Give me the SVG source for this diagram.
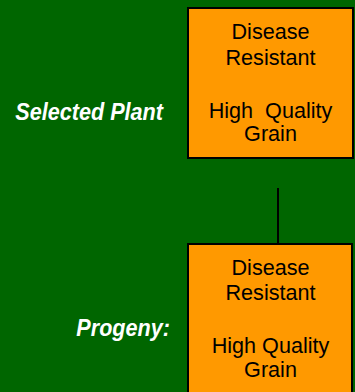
<svg xmlns="http://www.w3.org/2000/svg" width="355" height="392" viewBox="0 0 355 392">
<style>
.box{fill:#FF9900;stroke:#000;stroke-width:2}
.t{font-family:"Liberation Sans",Arial,sans-serif;font-size:22.5px;fill:#000;text-anchor:middle}
.lbl{font-family:"Liberation Sans",Arial,sans-serif;font-size:23px;font-weight:bold;font-style:italic;fill:#fff;text-anchor:end}
.conn{stroke:#000;stroke-width:2;fill:none}
</style>
<rect width="355" height="392" fill="#006600"/>
<g id="connectors">
<line class="conn" x1="278" y1="188" x2="278" y2="244"/>
</g>
<g id="selected-label">
<text class="lbl" transform="translate(163,120) scale(0.94,1)">Selected Plant</text>
</g>
<g id="progeny-label">
<text class="lbl" transform="translate(170,336) scale(0.94,1)">Progeny:</text>
</g>
<g id="selected-plant">
<rect class="box" x="188" y="8" width="165" height="150"/>
<text class="t" transform="translate(270.5,39) scale(0.96,1)">Disease</text>
<text class="t" transform="translate(270.5,65) scale(0.96,1)">Resistant</text>
<text class="t" transform="translate(270.5,117.5) scale(0.96,1)" xml:space="preserve">High  Quality</text>
<text class="t" transform="translate(270.5,140.5) scale(0.96,1)">Grain</text>
</g>
<g id="progeny">
<rect class="box" x="188" y="244" width="164" height="160"/>
<text class="t" transform="translate(270.5,275) scale(0.96,1)">Disease</text>
<text class="t" transform="translate(270.5,300) scale(0.96,1)">Resistant</text>
<text class="t" transform="translate(270.5,352.5) scale(0.96,1)">High Quality</text>
<text class="t" transform="translate(270.5,376.5) scale(0.96,1)">Grain</text>
</g>
</svg>
